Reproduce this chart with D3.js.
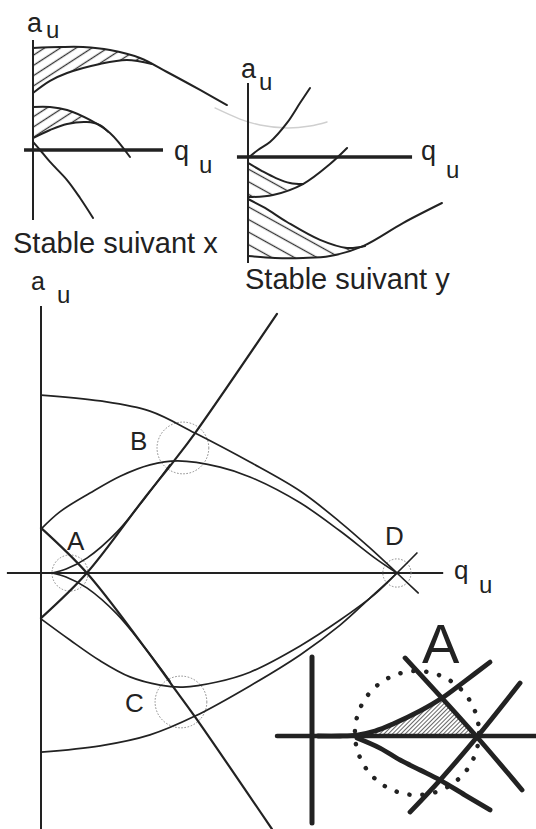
<!DOCTYPE html>
<html>
<head>
<meta charset="utf-8">
<script src="https://cdn.jsdelivr.net/npm/d3@7"></script>
<style>
  html, body { margin: 0; background: #fff; }
  svg { display: block; }
  text { font-family: "Liberation Sans", Arial, Helvetica, sans-serif; fill: #222; }
</style>
</head>
<body>
<svg id="chart" width="536" height="829"></svg>
<script>
// ---------- Stability boundaries, (q, a) in schematic units ----------

// Small panel "Stable suivant x"
const xTopEdge      = [[0,.785],[.208,.792],[.385,.792],[.592,.769],[.823,.708],[1.031,.600],[1.285,.462],[1.492,.346]];
const xTopInner     = [[0,.438],[.131,.531],[.262,.592],[.515,.662],[.723,.692],[.915,.662]];
const xMidUpper     = [[0,.331],[.131,.331],[.262,.308],[.438,.231],[.592,.131],[.746,-.054]];
const xMidLower     = [[0,.092],[.131,.154],[.262,.200],[.415,.215],[.515,.192],[.577,.141]];
const xFromOrigin   = [[0,.062],[.054,0],[.131,-.092],[.262,-.231],[.362,-.369],[.462,-.523]];

// Small panel "Stable suivant y"
const yFromOrigin   = [[0,-.008],[.077,.054],[.169,.115],[.300,.262],[.400,.415],[.477,.531]];
const yUpperTop     = [[0,-.046],[.108,-.108],[.215,-.162],[.323,-.200],[.423,-.208]];
const yUpperBottom  = [[0,-.308],[.192,-.292],[.423,-.208],[.631,-.054],[.762,.069]];
const yLowerTop     = [[0,-.323],[.131,-.392],[.300,-.500],[.554,-.638],[.762,-.700],[.900,-.685]];
const yLowerBottom  = [[0,-.762],[.208,-.777],[.423,-.777],[.631,-.762],[.885,-.685],[1.192,-.508],[1.492,-.354]];
const faintArc      = [[-.254,.377],[-.062,.292],[.092,.246],[.300,.223],[.477,.238],[.608,.269]];

// Main diagram: x boundaries and their y mirror images
const upperOuter    = [[0,.454],[.151,.439],[.278,.413],[.393,.357],[.533,.283],[.661,.209],[.763,.130],[.839,.064],[.908,0],[.962,-.051]];
const upperInner    = [[0,.112],[.048,.156],[.125,.204],[.202,.247],[.278,.276],[.349,.286],[.457,.270],[.533,.245],[.661,.179],[.763,.107],[.852,.038],[.908,0]];
const lowerOuter    = [[0,-.457],[.151,-.441],[.278,-.413],[.393,-.365],[.533,-.288],[.661,-.209],[.763,-.133],[.839,-.064],[.908,0],[.959,.051]];
const lowerInner    = [[0,-.117],[.074,-.171],[.151,-.224],[.227,-.265],[.304,-.286],[.362,-.291],[.449,-.278],[.533,-.253],[.661,-.186],[.763,-.120],[.852,-.054],[.908,0]];
const risingLine    = [[0,-.115],[.117,0],[.260,.186],[.337,.283],[.393,.357],[.602,.661]];
const fallingLine   = [[0,.115],[.117,0],[.260,-.184],[.334,-.286],[.393,-.367],[.589,-.653]];
const cuspUpper     = [[.028,0],[.064,.010],[.117,.038],[.194,.105],[.265,.191],[.329,.276]];
const cuspLower     = [[.028,0],[.064,-.010],[.117,-.038],[.194,-.105],[.265,-.191],[.329,-.276]];
const ringNames     = ["A","B","C","D"];
const ringCentres   = [[.074,0],[.362,.319],[.357,-.329],[.908,0]];
const ringRadii     = [.046,.066,.066,.036];

// Enlarged view of zone A
const zoomUpper     = [[.036,0],[.170,0],[.273,.006],[.382,.030],[.491,.073],[.655,.152],[.788,.230],[.927,.333],[1.079,.448]];
const zoomLower     = [[.273,-.012],[.412,-.073],[.533,-.145],[.655,-.206],[.776,-.267],[.927,-.358],[1.079,-.448]];
const zoomFalling   = [[.564,.473],[.788,.230],[1,-.006],[1.273,-.327]];
const zoomRising    = [[.594,-.461],[.776,-.267],[1,-.006],[1.261,.321]];
const zoomRingCentre = [.636,.018];
const zoomRingRadius = .376;

// ---------- Drawing ----------
const svg = d3.select("#chart");
const ink = "#222";
const defs = svg.append("defs");

function hatchPattern(id, angle, gap, width, color) {
  const p = defs.append("pattern")
    .attr("id", id)
    .attr("patternUnits", "userSpaceOnUse")
    .attr("width", gap).attr("height", gap)
    .attr("patternTransform", `rotate(${angle})`);
  p.append("line")
    .attr("x1", -1).attr("x2", gap + 1)
    .attr("y1", gap / 2).attr("y2", gap / 2)
    .attr("stroke", color).attr("stroke-width", width);
}
hatchPattern("hx", -33, 8.6, 1.3, "#333");
hatchPattern("hy", 29, 11, 1.3, "#333");
hatchPattern("hz", -45, 3, 0.9, "#555");

function panel(xRange, yZeroPx, unitPx) {
  const sx = d3.scaleLinear().domain([0, 1]).range(xRange);
  const sy = d3.scaleLinear().domain([0, 1]).range([yZeroPx, yZeroPx - unitPx]);
  const line = d3.line().x(d => sx(d[0])).y(d => sy(d[1])).curve(d3.curveCatmullRom.alpha(0.5));
  return { sx, sy, line };
}

function curve(g, P, pts, w, color) {
  g.append("path").attr("d", P.line(pts))
    .attr("fill", "none").attr("stroke", color || ink)
    .attr("stroke-width", w).attr("stroke-linecap", "round").attr("stroke-linejoin", "round");
}

function region(g, P, top, bottom, fill) {
  const d = P.line(top) + P.line(bottom.slice().reverse()).replace(/^M/, "L") + "Z";
  g.append("path").attr("d", d).attr("fill", fill).attr("stroke", "none");
}

function label(g, x, y, txt, size, anchor) {
  g.append("text").attr("x", x).attr("y", y).attr("font-size", size)
    .attr("text-anchor", anchor || "start").text(txt);
}

// --- panel: Stable suivant x ---
{
  const P = panel([33, 163], 150, 130);
  const g = svg.append("g");
  region(g, P, xTopEdge.slice(0, 6), xTopInner, "url(#hx)");
  region(g, P, xMidUpper.slice(0, 5), xMidLower, "url(#hx)");
  g.append("line").attr("x1", P.sx(0)).attr("x2", P.sx(0)).attr("y1", P.sy(.846)).attr("y2", P.sy(-.538))
    .attr("stroke", ink).attr("stroke-width", 2);
  g.append("line").attr("x1", P.sx(-.069)).attr("x2", P.sx(1)).attr("y1", P.sy(0)).attr("y2", P.sy(0))
    .attr("stroke", ink).attr("stroke-width", 3.6);
  [xTopEdge, xTopInner, xMidUpper, xMidLower, xFromOrigin].forEach(c => curve(g, P, c, 2));
  label(g, 27, 32, "a", 27); label(g, 46, 38, "u", 24);
  label(g, 174, 160, "q", 27); label(g, 199, 173, "u", 24);
  label(g, 13, 253, "Stable suivant x", 29);
}

// --- panel: Stable suivant y ---
{
  const P = panel([248, 378], 157, 130);
  const g = svg.append("g");
  curve(g, P, faintArc, 1.4, "#cfcfcf");
  region(g, P, yUpperTop, yUpperBottom.slice(0, 3), "url(#hy)");
  region(g, P, yLowerTop, yLowerBottom.slice(0, 5), "url(#hy)");
  g.append("line").attr("x1", P.sx(0)).attr("x2", P.sx(0)).attr("y1", P.sy(.569)).attr("y2", P.sy(-.815))
    .attr("stroke", ink).attr("stroke-width", 2);
  g.append("line").attr("x1", P.sx(-.085)).attr("x2", P.sx(1.262)).attr("y1", P.sy(0)).attr("y2", P.sy(0))
    .attr("stroke", ink).attr("stroke-width", 3.6);
  [yFromOrigin, yUpperTop, yUpperBottom, yLowerTop, yLowerBottom].forEach(c => curve(g, P, c, 2));
  label(g, 241, 78, "a", 27); label(g, 259, 90, "u", 24);
  label(g, 421, 160, "q", 27); label(g, 446, 178, "u", 24);
  label(g, 245, 289, "Stable suivant y", 29);
}

// --- main diagram ---
{
  const P = panel([41, 433], 573, 392);
  const g = svg.append("g");
  g.append("line").attr("x1", P.sx(0)).attr("x2", P.sx(0)).attr("y1", P.sy(.681)).attr("y2", P.sy(-.655))
    .attr("stroke", ink).attr("stroke-width", 2);
  g.append("line").attr("x1", P.sx(-.087)).attr("x2", P.sx(1.026)).attr("y1", P.sy(0)).attr("y2", P.sy(0))
    .attr("stroke", ink).attr("stroke-width", 1.8);
  ringCentres.forEach((c, i) => {
    g.append("circle").attr("cx", P.sx(c[0])).attr("cy", P.sy(c[1]))
      .attr("r", P.sx(ringRadii[i]) - P.sx(0))
      .attr("fill", "none").attr("stroke", "#8a8a8a").attr("stroke-width", 1)
      .attr("stroke-dasharray", "1.6 1.6");
  });
  [upperOuter, upperInner, lowerOuter, lowerInner, cuspUpper, cuspLower].forEach(c => curve(g, P, c, 1.7));
  [risingLine, fallingLine].forEach(c => curve(g, P, c, 2.2));
  const pos = { A: [67, 550], B: [130, 450], C: [125, 712], D: [385, 545] };
  ringNames.forEach(n => label(g, pos[n][0], pos[n][1], n, 26));
  label(g, 31, 290, "a", 25); label(g, 57, 303, "u", 24);
  label(g, 454, 579, "q", 26); label(g, 479, 593, "u", 24);
}

// --- enlarged zone A ---
{
  const P = panel([312, 477], 736, 165);
  const g = svg.append("g");
  region(g, P, zoomUpper.slice(2, 7), [[.273, 0], [1, 0]], "url(#hz)");
  g.append("line").attr("x1", P.sx(0)).attr("x2", P.sx(0)).attr("y1", P.sy(.479)).attr("y2", P.sy(-.527))
    .attr("stroke", ink).attr("stroke-width", 5).attr("stroke-linecap", "round");
  g.append("line").attr("x1", P.sx(-.212)).attr("x2", P.sx(1.4)).attr("y1", P.sy(0)).attr("y2", P.sy(0))
    .attr("stroke", ink).attr("stroke-width", 4.5).attr("stroke-linecap", "round");
  [zoomUpper, zoomLower, zoomFalling, zoomRising].forEach(c => curve(g, P, c, 4.8));
  g.append("circle").attr("cx", P.sx(zoomRingCentre[0])).attr("cy", P.sy(zoomRingCentre[1]))
    .attr("r", P.sx(zoomRingRadius) - P.sx(0))
    .attr("fill", "none").attr("stroke", ink).attr("stroke-width", 4.5)
    .attr("stroke-linecap", "round").attr("stroke-dasharray", "0.1 13");
  label(g, 422, 663, "A", 56);
}
</script>
</body>
</html>
